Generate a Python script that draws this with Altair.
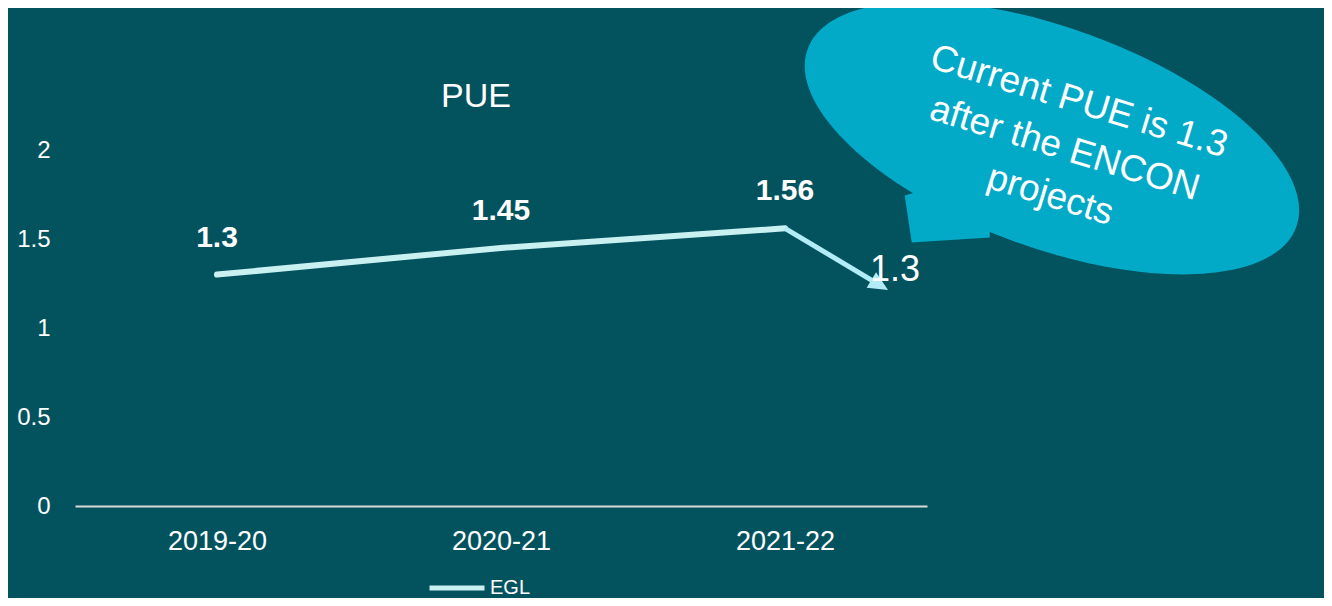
import altair as alt
import pandas as pd

# ---- data ----
years = ["2019-20", "2020-21", "2021-22"]
year_idx = [0, 1, 2]
pue = [1.3, 1.45, 1.56]
series = ["EGL", "EGL", "EGL"]
y_ticks = [0, 0.5, 1, 1.5, 2]

# chart title anchor (data units)
title_text = ["PUE"]
title_x = [0.912]
title_y = [2.298]

# arrow from last point to the "current" value annotation
arrow_x = [2.0, 2.3236]
arrow_y = [1.56, 1.251]
head_x = [2.3236]
head_y = [1.251]
current_label = ["1.3"]
current_x = [2.387]
current_y = [1.326]

# speech bubble anchors (in data units)
bubble_x = [2.94]
bubble_y = [2.067]
tail_x = [2.58]
tail_y = [1.632]
bubble_text_x = [3.035]
bubble_text_y = [2.27]
bubble_lines = ["Current PUE is 1.3", "after the ENCON", "projects"]

BG = "#03535F"
LINE = "#C9F1F1"
ARROW = "#B2ECF6"
BUBBLE = "#02AAC7"
FONT = "Liberation Sans"

df = pd.DataFrame({"idx": year_idx, "year": years, "pue": pue, "series": series})
arrow_df = pd.DataFrame({"x": arrow_x, "y": arrow_y})
head_df = pd.DataFrame({"x": head_x, "y": head_y})
cur_df = pd.DataFrame({"x": current_x, "y": current_y, "t": current_label})
bub_df = pd.DataFrame({"x": bubble_x, "y": bubble_y})
tail_df = pd.DataFrame({"x": tail_x, "y": tail_y})
btext_df = pd.DataFrame({"x": bubble_text_x, "y": bubble_text_y})
title_df = pd.DataFrame({"x": title_x, "y": title_y, "t": title_text})

label_expr = "[" + ",".join("'%s'" % y for y in years) + "][datum.value]"

xscale = alt.Scale(domain=[-0.5, 2.5], nice=False, zero=False)
yscale = alt.Scale(domain=[0, 2], nice=False)

x_axis = alt.Axis(values=year_idx, labelExpr=label_expr, title=None, grid=False,
                  ticks=False, tickSize=0, domain=True, domainColor="#D9D9D9",
                  domainWidth=2, labelColor="white", labelFont=FONT, labelFontSize=27,
                  labelPadding=22)
y_axis = alt.Axis(values=y_ticks, format="~g", title=None, grid=False, ticks=False,
                  tickSize=0, domain=False, labelColor="white", labelFont=FONT,
                  labelFontSize=24, labelPadding=25)

ellipse_path = "M -1 0 A 1 0.423 0 1 1 1 0 A 1 0.423 0 1 1 -1 0 Z"
tail_path = "M -0.9 -0.4 L -0.76 0.54 L 0.8 0.44 L 0.8 -0.9 Z"
# arrowhead pointing down-right along the arrow direction
head_path = "M 0.856 0.517 L -0.79 0.34 L -0.066 -0.858 Z"

bubble = alt.Chart(bub_df).mark_point(
    shape=ellipse_path, filled=True, fill=BUBBLE, opacity=1, strokeWidth=0,
    size=270400, angle=20
).encode(x=alt.X("x:Q", scale=xscale, axis=x_axis), y=alt.Y("y:Q", scale=yscale, axis=y_axis))

tail = alt.Chart(tail_df).mark_point(
    shape=tail_path, filled=True, fill=BUBBLE, opacity=1, strokeWidth=0, size=10000
).encode(x=alt.X("x:Q", scale=xscale), y=alt.Y("y:Q", scale=yscale))

btext = alt.Chart(btext_df).mark_text(
    text=bubble_lines, font=FONT, fontSize=37, color="white", angle=17,
    align="center", baseline="middle", lineHeight=49
).encode(x=alt.X("x:Q", scale=xscale), y=alt.Y("y:Q", scale=yscale))

title = alt.Chart(title_df).mark_text(
    font=FONT, fontSize=34, color="white", align="center", baseline="middle"
).encode(x=alt.X("x:Q", scale=xscale), y=alt.Y("y:Q", scale=yscale), text="t:N")

line = alt.Chart(df).mark_line(strokeWidth=6, strokeCap="round").encode(
    x=alt.X("idx:Q", scale=xscale),
    y=alt.Y("pue:Q", scale=yscale),
    color=alt.Color("series:N", scale=alt.Scale(range=[LINE]),
                    legend=alt.Legend(title=None, orient="none", legendX=352, legendY=408,
                                      symbolType="stroke", symbolSize=3025,
                                      symbolStrokeWidth=5, symbolStrokeColor=LINE,
                                      labelColor="white", labelFont=FONT, labelFontSize=20,
                                      labelOffset=3)),
)

labels = alt.Chart(df).mark_text(
    font=FONT, fontSize=30, fontWeight="bold", color="white", dy=-37, baseline="middle"
).encode(x=alt.X("idx:Q", scale=xscale), y=alt.Y("pue:Q", scale=yscale), text="pue:N")

arrow = alt.Chart(arrow_df).mark_line(strokeWidth=5, color=ARROW).encode(
    x=alt.X("x:Q", scale=xscale), y=alt.Y("y:Q", scale=yscale))

head = alt.Chart(head_df).mark_point(
    shape=head_path, filled=True, fill=ARROW, opacity=1, strokeWidth=0, size=676
).encode(x=alt.X("x:Q", scale=xscale), y=alt.Y("y:Q", scale=yscale))

cur = alt.Chart(cur_df).mark_text(
    font=FONT, fontSize=36, color="white", align="center", baseline="middle"
).encode(x=alt.X("x:Q", scale=xscale), y=alt.Y("y:Q", scale=yscale), text="t:N")

chart = alt.layer(bubble, tail, btext, title, line, labels, arrow, head, cur).properties(
    width=852, height=356,
    autosize=alt.AutoSizeParams(type="none"),
    padding={"left": 67, "top": 142, "right": 397, "bottom": 92},
).configure(background=BG).configure_view(stroke=None)

chart.save("out.html", embed_options={"renderer": "svg", "actions": False})
